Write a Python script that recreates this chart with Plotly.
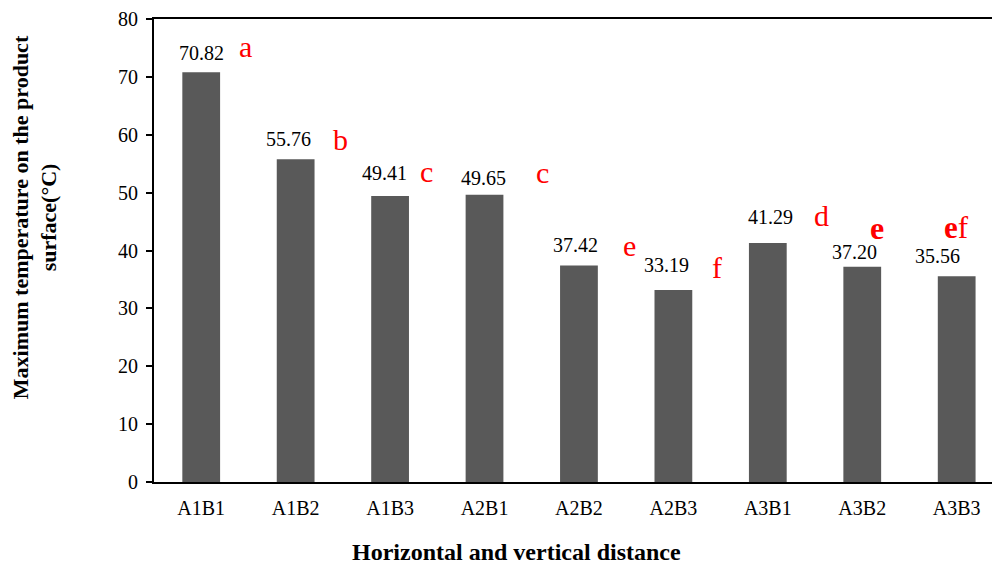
import plotly.graph_objects as go

# Treatment groups (horizontal A x vertical B distance)
categories = ["A1B1", "A1B2", "A1B3", "A2B1", "A2B2", "A2B3", "A3B1", "A3B2", "A3B3"]
max_temp = [70.82, 55.76, 49.41, 49.65, 37.42, 33.19, 41.29, 37.20, 35.56]
letters = ["a", "b", "c", "c", "e", "f", "d", "e", "ef"]

# label placement (offsets in axis units)
value_dx = [0.0, -0.08, -0.06, -0.01, -0.04, -0.07, 0.03, -0.08, -0.2]
value_dy = [3.3, 3.5, 4.0, 2.9, 3.5, 4.3, 4.5, 2.5, 3.5]
letter_x = [0.47, 1.47, 2.39, 3.61, 4.54, 5.46, 6.57, 7.16, 8.0]
letter_y = [75.2, 59.1, 53.6, 53.4, 40.95, 37.1, 46.1, 43.9, 43.9]
letter_size = [30, 30, 30, 30, 30, 30, 30, 32, 31]
letter_bold = [0, 0, 0, 0, 0, 0, 0, 1, 1]

FONT = "Liberation Serif"

fig = go.Figure()
fig.add_trace(go.Bar(
    x=list(range(len(categories))),
    y=max_temp,
    width=0.4,
    marker=dict(color="#595959", line=dict(width=0)),
    hoverinfo="skip",
))

annotations = []
for i, v in enumerate(max_temp):
    annotations.append(dict(
        x=i + value_dx[i], y=v + value_dy[i], xref="x", yref="y",
        text=f"{v:.2f}", showarrow=False,
        font=dict(family=FONT, size=20, color="black"),
    ))
for i, lt in enumerate(letters):
    txt = f"<b>{lt[0]}</b>{lt[1:]}" if letter_bold[i] else lt
    annotations.append(dict(
        x=letter_x[i], y=letter_y[i], xref="x", yref="y",
        text=txt, showarrow=False,
        font=dict(family=FONT, size=letter_size[i], color="#ff0000"),
    ))

annotations.append(dict(
    x=0, y=0.572, xref="paper", yref="paper", xshift=-119,
    text="<b>Maximum temperature on the product<br>surface(°C)</b>",
    textangle=-90, showarrow=False, xanchor="center", yanchor="middle",
    font=dict(family=FONT, size=22, color="black"),
))
annotations.append(dict(
    x=0.433, y=0, xref="paper", yref="paper", yshift=-85,
    text="<b>Horizontal and vertical distance</b>",
    showarrow=False, xanchor="center", yanchor="bottom",
    font=dict(family=FONT, size=24, color="black"),
))

fig.update_layout(
    width=992, height=567,
    margin=dict(l=154, r=0, t=19, b=85),
    plot_bgcolor="white", paper_bgcolor="white",
    showlegend=False,
    annotations=annotations,
    font=dict(family=FONT, size=20, color="black"),
)
fig.update_xaxes(
    range=[-0.5, 8.374],
    tickmode="array", tickvals=list(range(len(categories))), ticktext=categories,
    showline=True, linecolor="black", linewidth=2, mirror=True,
    ticks="", showgrid=False, zeroline=False, ticklabelstandoff=7,
    tickfont=dict(family=FONT, size=20, color="black"),
)
fig.update_yaxes(
    range=[0, 80], dtick=10,
    showline=True, linecolor="black", linewidth=2,
    ticks="outside", ticklen=6, tickwidth=1.5, tickcolor="black",
    showgrid=False, zeroline=False, ticklabelstandoff=4,
    tickfont=dict(family=FONT, size=20, color="black"),
)

fig.write_html("out.html")
